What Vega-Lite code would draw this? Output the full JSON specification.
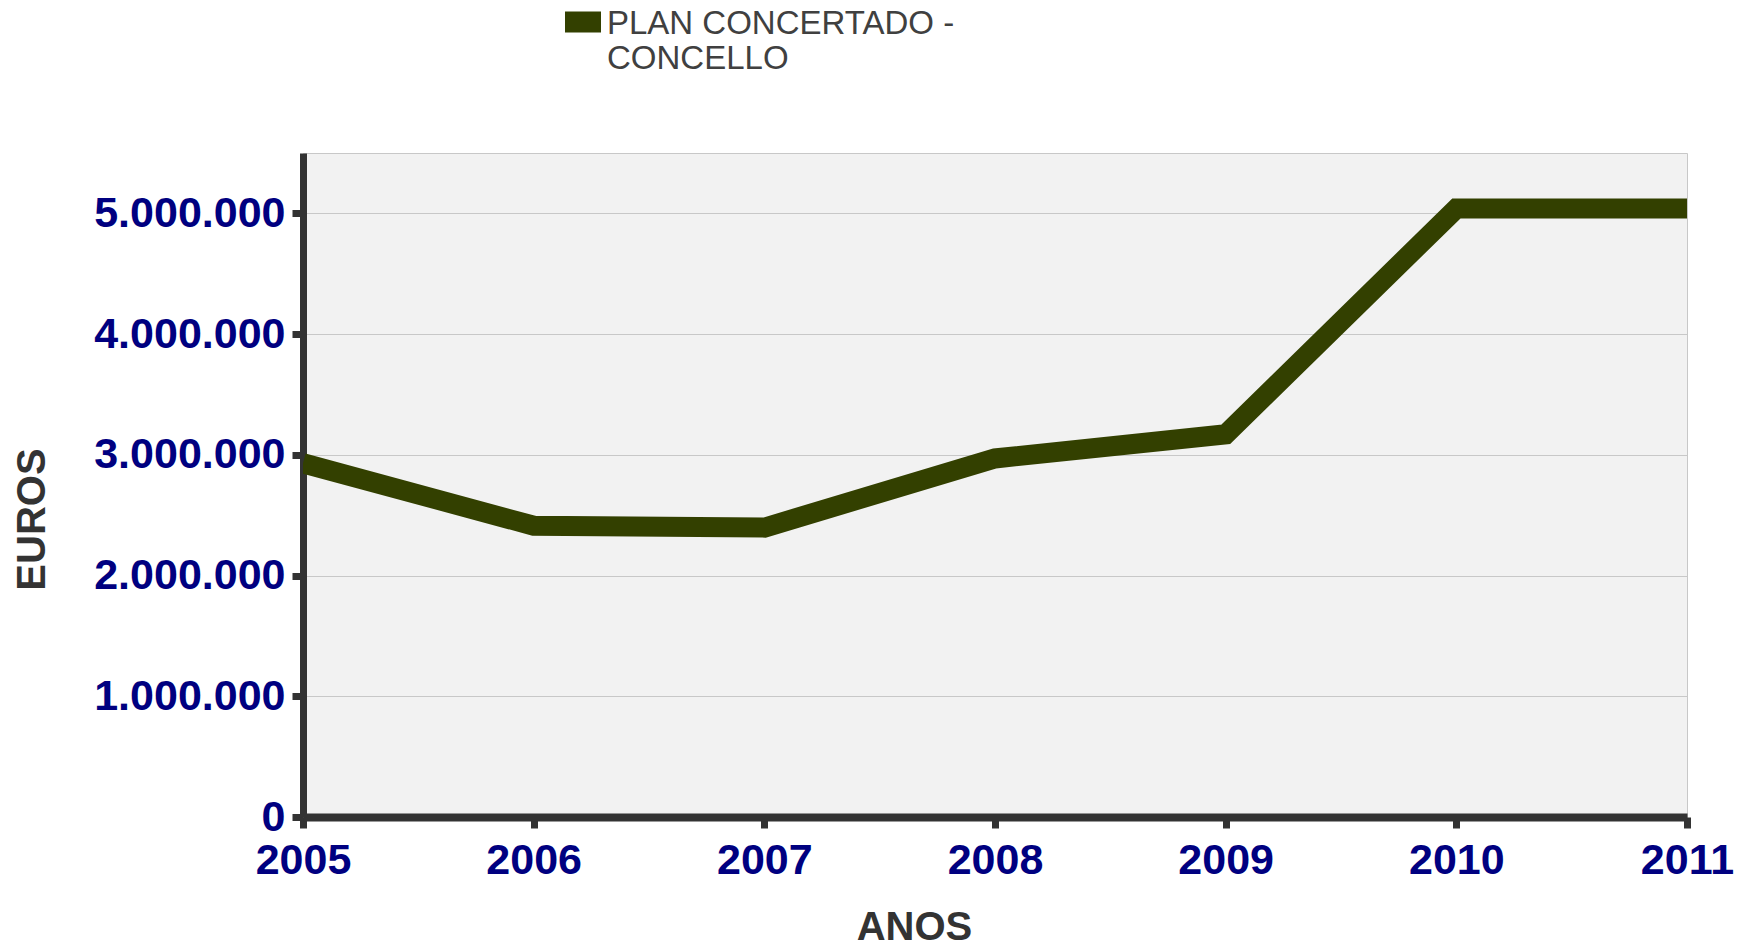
{
  "$schema": "https://vega.github.io/schema/vega-lite/v6.json",
  "autosize": "none",
  "padding": {"left": 303, "top": 153, "right": 63, "bottom": 130},
  "width": 1384,
  "height": 664,
  "background": "white",
  "config": {
    "locale": {"number": {"decimal": ",", "thousands": ".", "grouping": [3], "currency": ["", " €"]}},
    "font": "Liberation Sans",
    "view": {"fill": "#f2f2f2", "stroke": "#c8c8c8", "strokeWidth": 1}
  },
  "data": {
    "values": [
      {"ano": 2005, "euros": 2930000, "serie": "PLAN CONCERTADO - CONCELLO"},
      {"ano": 2006, "euros": 2413000, "serie": "PLAN CONCERTADO - CONCELLO"},
      {"ano": 2007, "euros": 2397000, "serie": "PLAN CONCERTADO - CONCELLO"},
      {"ano": 2008, "euros": 2970000, "serie": "PLAN CONCERTADO - CONCELLO"},
      {"ano": 2009, "euros": 3170000, "serie": "PLAN CONCERTADO - CONCELLO"},
      {"ano": 2010, "euros": 5040000, "serie": "PLAN CONCERTADO - CONCELLO"},
      {"ano": 2011, "euros": 5040000, "serie": "PLAN CONCERTADO - CONCELLO"}
    ]
  },
  "mark": {"type": "line", "strokeWidth": 20, "strokeJoin": "miter", "strokeCap": "butt", "clip": true},
  "encoding": {
    "x": {
      "field": "ano",
      "type": "quantitative",
      "scale": {"domain": [2005, 2011], "nice": false, "zero": false},
      "axis": {
        "values": [2005, 2006, 2007, 2008, 2009, 2010, 2011],
        "format": "d",
        "grid": false,
        "title": "ANOS",
        "titleFont": "Liberation Sans",
        "titleFontSize": 40,
        "titleFontWeight": "bold",
        "titleColor": "#333333",
        "titleX": 611,
        "titleY": 110,
        "titleAlign": "center",
        "titleBaseline": "middle",
        "labelFont": "Liberation Sans",
        "labelFontSize": 43,
        "labelFontWeight": "bold",
        "labelColor": "#000080",
        "labelPadding": 11,
        "labelFlush": false,
        "labelOverlap": false,
        "labelLimit": 500,
        "domainColor": "#333333",
        "domainWidth": 8,
        "tickColor": "#333333",
        "tickWidth": 7,
        "tickSize": 11
      }
    },
    "y": {
      "field": "euros",
      "type": "quantitative",
      "scale": {"domain": [0, 5500000], "nice": false},
      "axis": {
        "values": [0, 1000000, 2000000, 3000000, 4000000, 5000000],
        "format": ",d",
        "gridColor": "#c8c8c8",
        "gridWidth": 1,
        "title": "EUROS",
        "titleFont": "Liberation Sans",
        "titleFontSize": 40,
        "titleFontWeight": "bold",
        "titleColor": "#333333",
        "titleAngle": -90,
        "titleX": -271,
        "titleY": 366,
        "titleAlign": "center",
        "titleBaseline": "middle",
        "labelFont": "Liberation Sans",
        "labelFontSize": 43,
        "labelFontWeight": "bold",
        "labelColor": "#000080",
        "labelPadding": 7,
        "labelFlush": false,
        "labelLimit": 500,
        "domainColor": "#333333",
        "domainWidth": 7,
        "tickColor": "#333333",
        "tickWidth": 7,
        "tickSize": 11
      }
    },
    "color": {
      "field": "serie",
      "type": "nominal",
      "scale": {"range": ["#334000"]},
      "legend": {
        "title": null,
        "orient": "none",
        "legendX": 262,
        "legendY": -163,
        "symbolType": "M-1,0.194L1,0.194L1,1.361L-1,1.361Z",
        "symbolSize": 1296,
        "symbolStrokeWidth": 0,
        "symbolFillColor": "#334000",
        "labelExpr": "['PLAN CONCERTADO -', 'CONCELLO']",
        "labelFont": "Liberation Sans",
        "labelFontSize": 33,
        "labelColor": "#404040",
        "labelBaseline": "top",
        "labelOffset": 6,
        "labelLimit": 600
      }
    }
  }
}
